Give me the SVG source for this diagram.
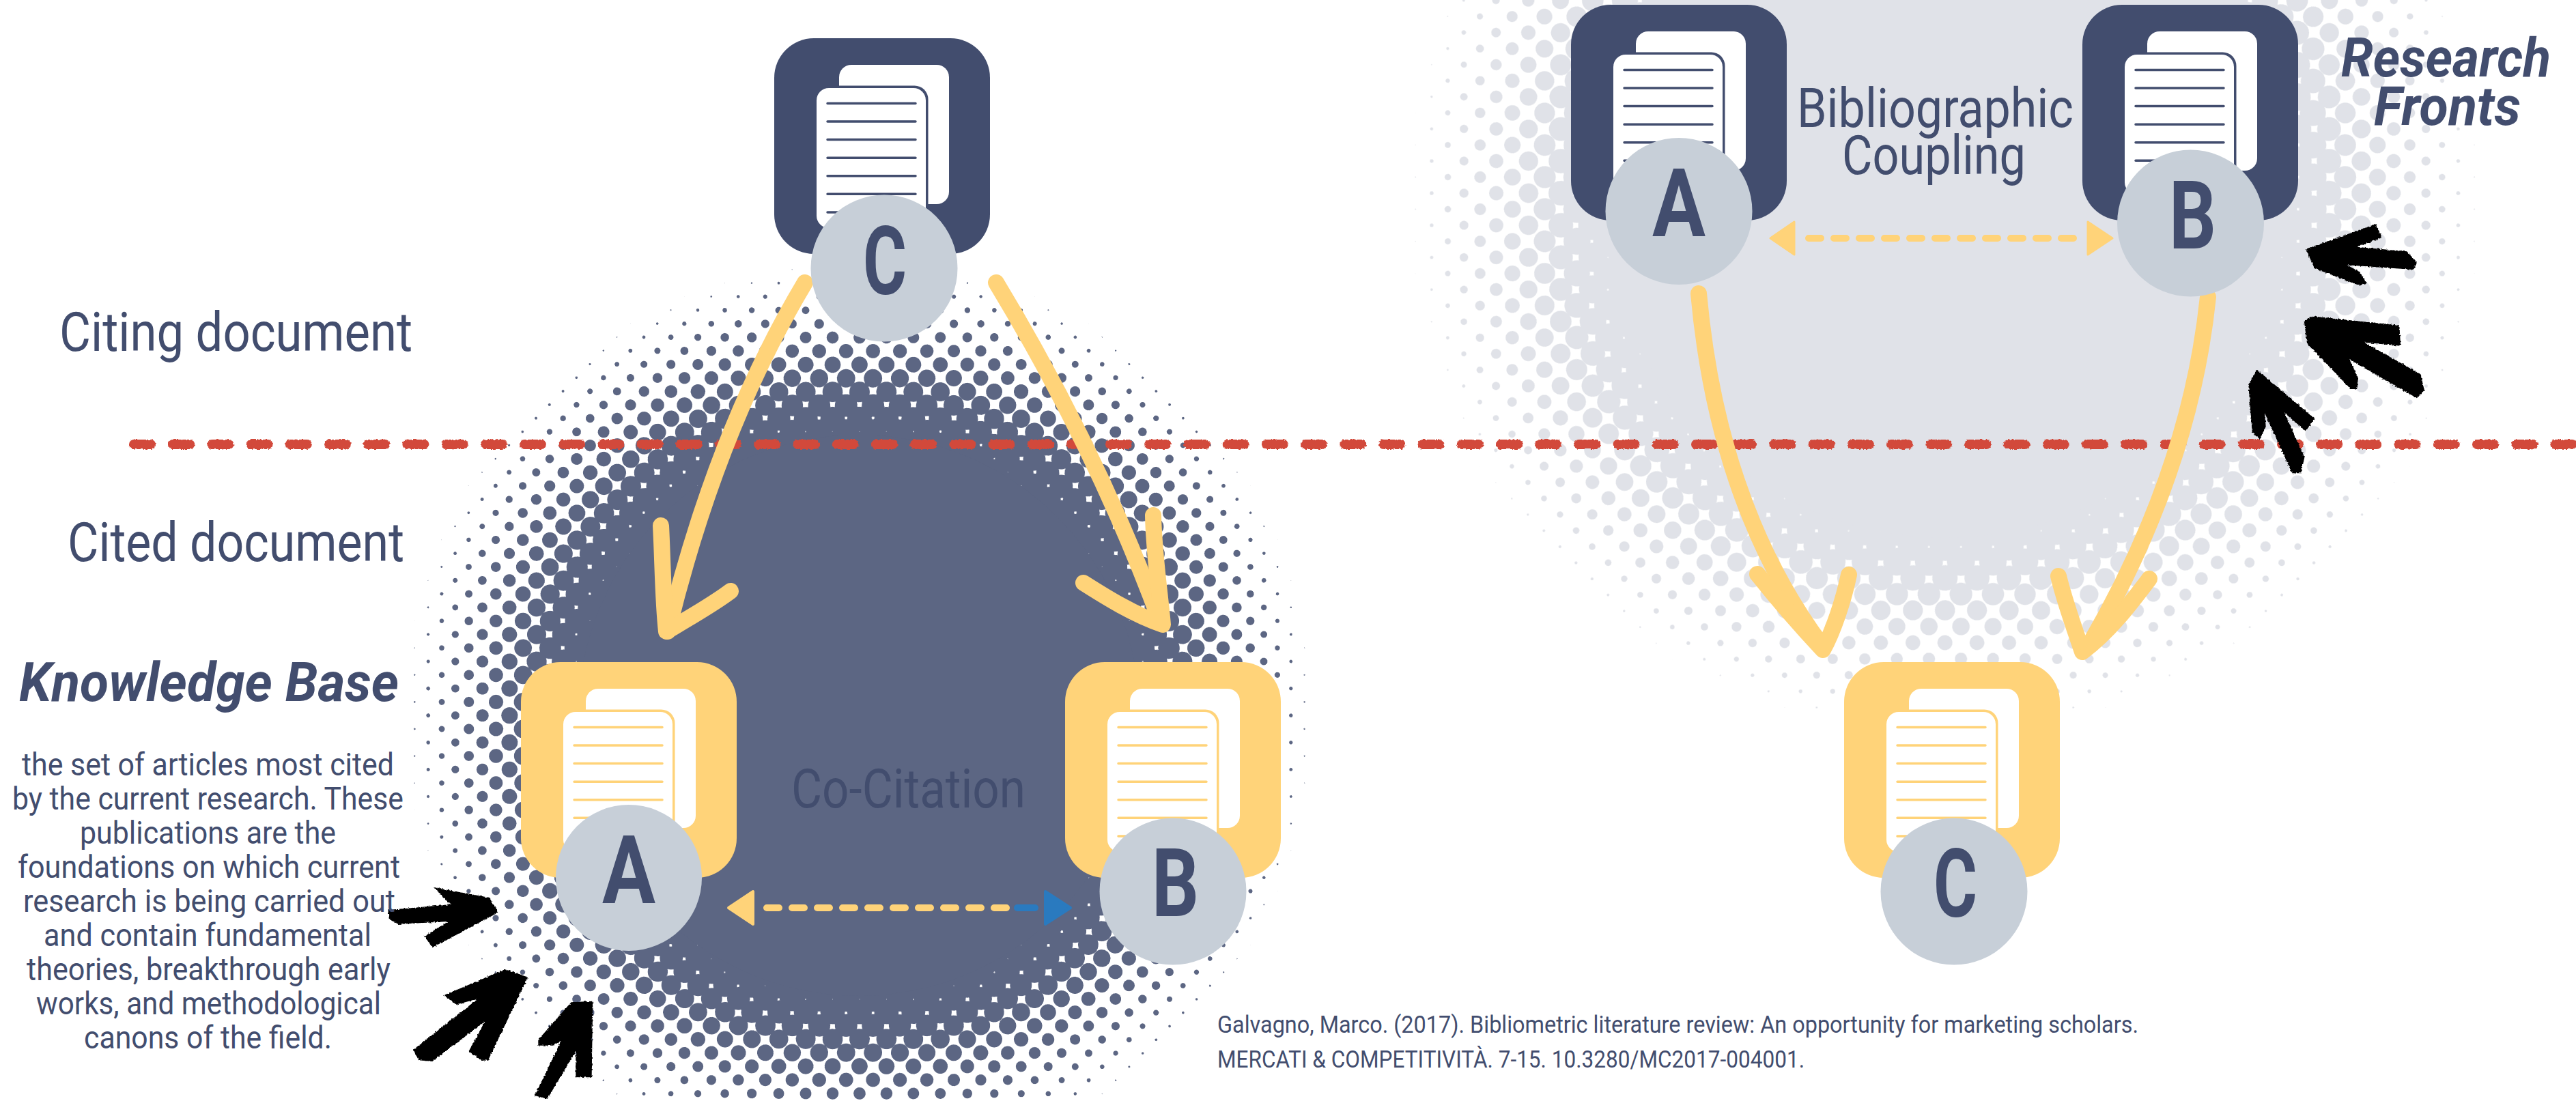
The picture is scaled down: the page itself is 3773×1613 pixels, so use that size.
<svg xmlns="http://www.w3.org/2000/svg" width="3773" height="1613" viewBox="0 0 3773 1613">
<style>
text{font-family:"Roboto","Liberation Sans",sans-serif;fill:#424D6E}
.lab{font-size:80px;font-weight:400}
.para{font-size:46px;font-weight:400}
.cit{font-size:35px;font-weight:400}
.head{font-size:80px;font-weight:700;font-style:italic}
.let{font-size:140px;font-weight:700;text-anchor:start}
.disc{fill:#C7CFD8}
.navy{color:#424D6E}
.gold{color:#FFD379}
.curve{fill:none;stroke:#FFD379;stroke-width:24;stroke-linecap:round;stroke-linejoin:round}
.dash{fill:none;stroke:#FFD379;stroke-width:10;stroke-linecap:round;stroke-dasharray:18 19}
.redline{fill:none;stroke:#D24A3A;stroke-width:14;stroke-linecap:round;stroke-dasharray:25 32.2}
.blk{fill:#000}
</style>
<defs>
<radialGradient id="cell" gradientUnits="userSpaceOnUse" cx="50" cy="50" r="70.71"><stop offset="0" stop-color="#000"/><stop offset="1" stop-color="#fff"/></radialGradient>
<pattern id="latL" patternUnits="userSpaceOnUse" width="100" height="100" patternTransform="matrix(.1975 .198 .1975 -.198 705.95 1266)"><rect width="100" height="100" fill="url(#cell)"/></pattern>
<pattern id="latR" patternUnits="userSpaceOnUse" width="100" height="100" patternTransform="matrix(.235 .2355 .235 -.2355 2637.2 1036.6)"><rect width="100" height="100" fill="url(#cell)"/></pattern>
<radialGradient id="fadeL" gradientUnits="userSpaceOnUse" cx="1258" cy="1048" r="675"><stop offset=".62" stop-color="#000"/><stop offset="1" stop-color="#fff"/></radialGradient>
<radialGradient id="fadeR" gradientUnits="userSpaceOnUse" cx="2849" cy="290" r="795"><stop offset=".635" stop-color="#000"/><stop offset="1" stop-color="#fff"/></radialGradient>
<filter id="htL" filterUnits="userSpaceOnUse" x="570" y="360" width="1376" height="1253" color-interpolation-filters="sRGB"><feColorMatrix type="matrix" values="0 0 0 0 .361 0 0 0 0 .4 0 0 0 0 .514 -40 0 0 0 20"/></filter>
<filter id="htR" filterUnits="userSpaceOnUse" x="2040" y="0" width="1620" height="1100" color-interpolation-filters="sRGB"><feColorMatrix type="matrix" values="0 0 0 0 .878 0 0 0 0 .886 0 0 0 0 .91 -34 0 0 0 17"/></filter>
<filter id="rough" filterUnits="userSpaceOnUse" x="0" y="0" width="3773" height="1613"><feTurbulence type="fractalNoise" baseFrequency=".35" numOctaves="2" seed="4"/><feDisplacementMap in="SourceGraphic" scale="4" xChannelSelector="R" yChannelSelector="G"/></filter>
<g id="doc">
<rect width="316" height="316" rx="58" fill="currentColor"/>
<rect x="95" y="39" width="161" height="204" rx="18" fill="#fff"/>
<rect x="62" y="69.500" width="163.500" height="209" rx="20" fill="currentColor"/>
<rect x="62" y="73" width="160" height="205" rx="18" fill="#fff"/>
<path d="M78 95.500H207M78 122H207M78 148.600H207M78 175.200H207M78 201.700H207M78 228.300H207M78 255H207" fill="none" stroke="currentColor" stroke-width="3.500" stroke-linecap="round"/>
</g>
</defs>
<rect width="3773" height="1613" fill="#fff"/>
<g id="halftone-left">
<g filter="url(#htL)"><rect x="570" y="360" width="1376" height="1253" fill="url(#latL)"/><rect x="570" y="360" width="1376" height="1253" fill="url(#fadeL)" opacity=".5"/></g>
<circle cx="1258" cy="1048" r="411" fill="#5C6683"/>
</g>
<g id="halftone-right">
<g filter="url(#htR)"><rect x="2040" y="0" width="1620" height="1100" fill="url(#latR)"/><rect x="2040" y="0" width="1620" height="1100" fill="url(#fadeR)" opacity=".5"/></g>
<circle cx="2849" cy="290" r="498" fill="#E0E2E8"/>
</g>
<g id="divider" filter="url(#rough)"><path class="redline" d="M196 651H3773"/></g>
<g id="connectors">
<path class="curve" d="M1179 414Q1050 630 978 925"/>
<path class="curve" d="M968 770C971 830 971 880 976 925C1010 905 1045 885 1070 866"/>
<path class="curve" d="M1459 414Q1606 657 1700 912"/>
<path class="curve" d="M1689 755C1690 810 1698 860 1703 915C1660 900 1620 875 1587 854"/>
<path class="curve" d="M2488 430C2505 620 2560 800 2668 945"/>
<path class="curve" d="M2574 841C2605 880 2640 920 2670 952C2685 925 2700 880 2708 842"/>
<path class="curve" d="M3234 435C3215 620 3150 790 3060 945"/>
<path class="curve" d="M3015 844C3025 885 3040 925 3050 955C3090 925 3120 885 3148 848"/>
<path class="dash" d="M1123 1330H1478"/>
<path d="M1490 1330H1516" fill="none" stroke="#2A7ABF" stroke-width="10" stroke-linecap="round"/>
<path d="M1103 1306V1354L1067 1330Z" fill="#FFD379" stroke="#FFD379" stroke-width="4" stroke-linejoin="round"/>
<path d="M1531 1306V1354L1568 1330Z" fill="#2A7ABF" stroke="#2A7ABF" stroke-width="4" stroke-linejoin="round"/>
<path class="dash" d="M2649 349H3040"/>
<path d="M2628 325V373L2593 349Z" fill="#FFD379" stroke="#FFD379" stroke-width="3" stroke-linejoin="round"/>
<path d="M3058 325V373L3094 349Z" fill="#FFD379" stroke="#FFD379" stroke-width="3" stroke-linejoin="round"/>
</g>
<g id="node-citing-c"><use href="#doc" class="navy" x="1134" y="56"/><circle class="disc" cx="1295" cy="393" r="107.500"/><text class="let" x="1264" y="431" textLength="64" lengthAdjust="spacingAndGlyphs">C</text></g>
<g id="node-cited-a"><use href="#doc" class="gold" x="763" y="970"/><circle class="disc" cx="921" cy="1286" r="107"/><text class="let" x="882" y="1323" textLength="78" lengthAdjust="spacingAndGlyphs">A</text></g>
<g id="node-cited-b"><use href="#doc" class="gold" x="1560" y="970"/><circle class="disc" cx="1718" cy="1306" r="107.500"/><text class="let" x="1687" y="1342" textLength="69" lengthAdjust="spacingAndGlyphs">B</text></g>
<g id="node-front-a"><use href="#doc" class="navy" x="2301" y="7"/><circle class="disc" cx="2459" cy="309.500" r="107.500"/><text class="let" x="2420" y="346" textLength="78" lengthAdjust="spacingAndGlyphs">A</text></g>
<g id="node-front-b"><use href="#doc" class="navy" x="3050" y="7"/><circle class="disc" cx="3208.500" cy="327" r="107.500"/><text class="let" x="3177" y="364" textLength="69" lengthAdjust="spacingAndGlyphs">B</text></g>
<g id="node-cited-c"><use href="#doc" class="gold" x="2701" y="970"/><circle class="disc" cx="2862" cy="1306" r="107.500"/><text class="let" x="2832" y="1343" textLength="64" lengthAdjust="spacingAndGlyphs">C</text></g>
<g id="marks-left" filter="url(#rough)">
<g transform="translate(550 1250) scale(.3333)" class="blk">
<path d="M55 250 330 225 255 150 500 195 540 260 250 415 215 365 320 300 100 312 60 290Z"/>
<path d="M165 865 450 640 355 665 300 625 570 510 670 545 495 910 465 912 410 870 480 740 250 915 190 910Z"/>
<path d="M715 820 860 655 955 650 950 985 880 985 880 870 755 1080 700 1065 815 825 780 845 715 845Z"/>
</g>
</g>
<g id="marks-right" filter="url(#rough)">
<g transform="translate(3200 300) scale(.3655 .3333)" class="blk">
<path d="M485 195 765 85 790 145 690 185 890 205 930 255 915 285 650 265 700 295 730 345 700 355 520 280Z"/>
<path d="M478 510 510 490 860 530 865 620 720 605 945 745 960 815 930 850 660 680 695 760 690 810 665 810 490 610Z"/>
<path d="M255 790 290 725 520 940 485 995 400 915 480 1110 465 1180 430 1180 320 915 325 975 300 1030 270 1000Z"/>
</g>
</g>
<g id="labels">
<text class="lab" x="87" y="514" textLength="517" lengthAdjust="spacingAndGlyphs">Citing document</text>
<text class="lab" x="99" y="822" textLength="493" lengthAdjust="spacingAndGlyphs">Cited document</text>
<text class="head" x="28" y="1027" textLength="556" lengthAdjust="spacingAndGlyphs">Knowledge Base</text>
<text class="para" x="32" y="1135.500" textLength="545" lengthAdjust="spacingAndGlyphs">the set of articles most cited</text>
<text class="para" x="18" y="1185.500" textLength="573" lengthAdjust="spacingAndGlyphs">by the current research. These</text>
<text class="para" x="117" y="1235.500" textLength="375" lengthAdjust="spacingAndGlyphs">publications are the</text>
<text class="para" x="26" y="1285.500" textLength="560" lengthAdjust="spacingAndGlyphs">foundations on which current</text>
<text class="para" x="34" y="1335.500" textLength="545" lengthAdjust="spacingAndGlyphs">research is being carried out</text>
<text class="para" x="64" y="1385.500" textLength="480" lengthAdjust="spacingAndGlyphs">and contain fundamental</text>
<text class="para" x="39" y="1435.500" textLength="533" lengthAdjust="spacingAndGlyphs">theories, breakthrough early</text>
<text class="para" x="53" y="1485.500" textLength="505" lengthAdjust="spacingAndGlyphs">works, and methodological</text>
<text class="para" x="123" y="1535.500" textLength="363" lengthAdjust="spacingAndGlyphs">canons of the field.</text>
<text class="lab" x="1159" y="1183" textLength="343" lengthAdjust="spacingAndGlyphs">Co-Citation</text>
<text class="lab" x="2632" y="186" textLength="405" lengthAdjust="spacingAndGlyphs">Bibliographic</text>
<text class="lab" x="2698" y="255" textLength="269" lengthAdjust="spacingAndGlyphs">Coupling</text>
<text class="head" x="3429" y="112" textLength="307" lengthAdjust="spacingAndGlyphs">Research</text>
<text class="head" x="3477" y="183" textLength="215" lengthAdjust="spacingAndGlyphs">Fronts</text>
<text class="cit" x="1783" y="1513" textLength="1349" lengthAdjust="spacingAndGlyphs">Galvagno, Marco. (2017). Bibliometric literature review: An opportunity for marketing scholars.</text>
<text class="cit" x="1783" y="1564" textLength="860" lengthAdjust="spacingAndGlyphs">MERCATI &amp; COMPETITIVITÀ. 7-15. 10.3280/MC2017-004001.</text>
</g>
</svg>
